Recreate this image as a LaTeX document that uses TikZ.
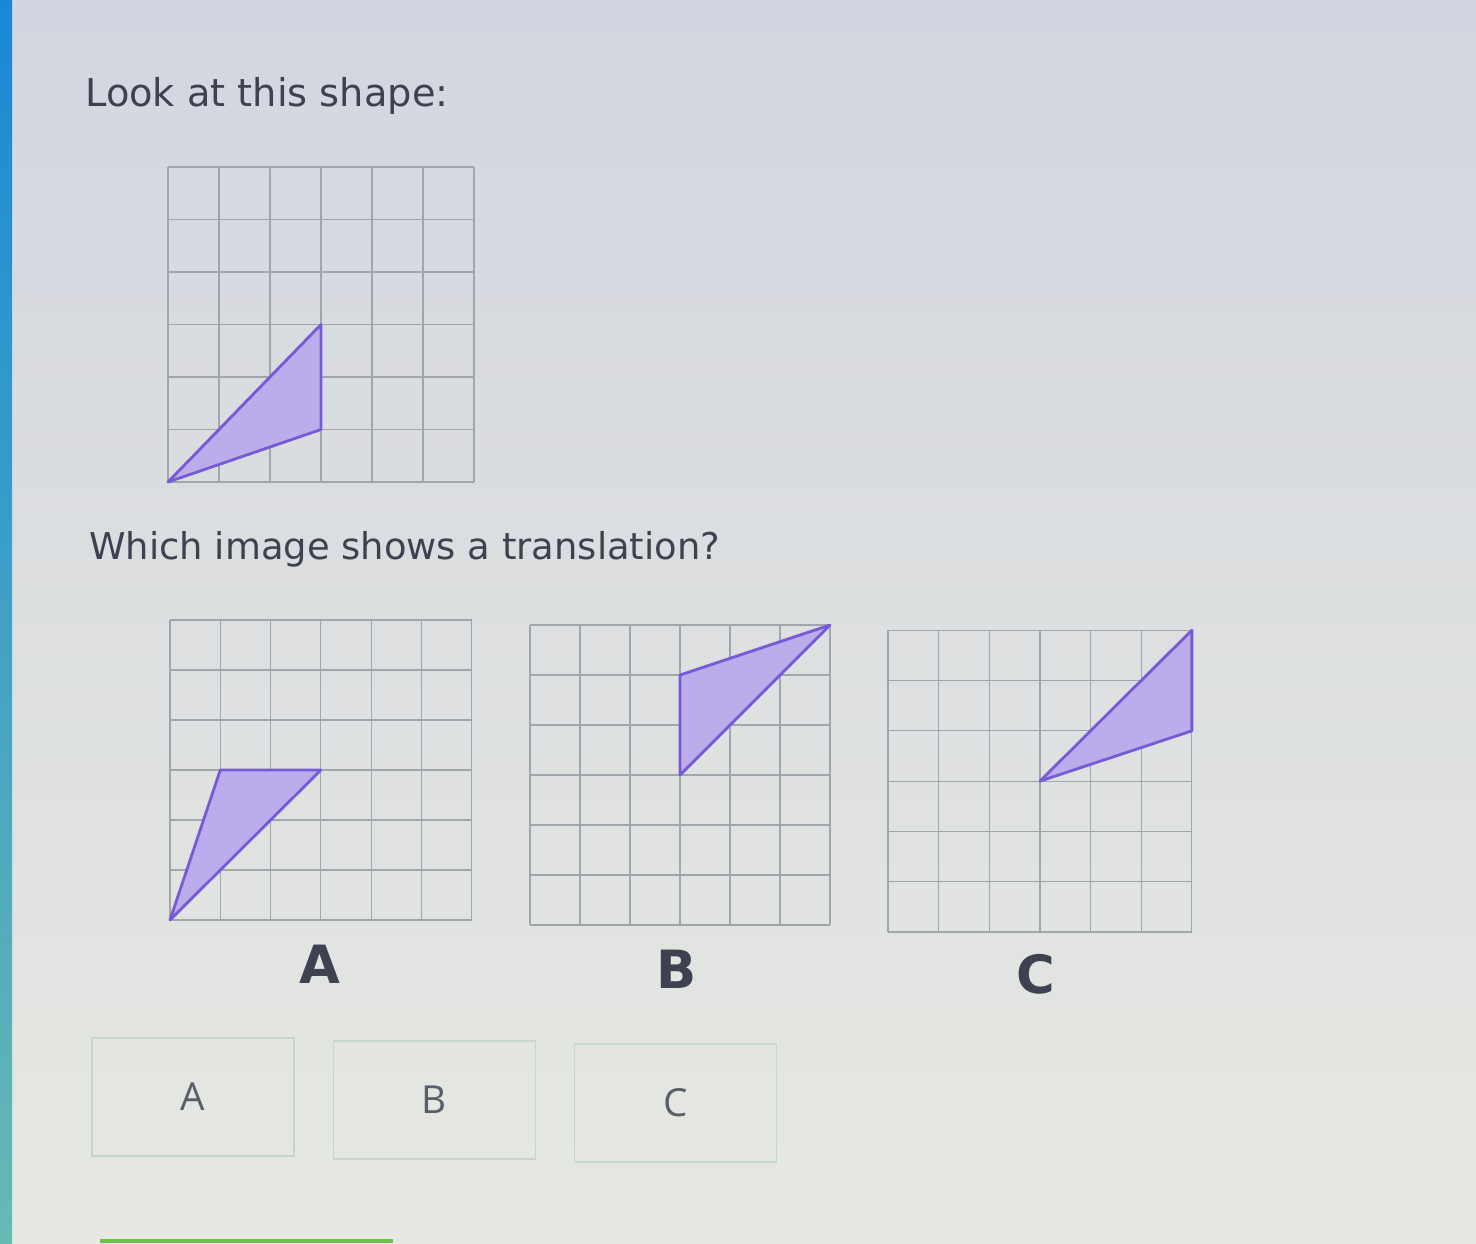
\documentclass[tikz,border=0pt]{standalone}
\usepackage{fontspec}
\setmainfont{DejaVu Sans}
\newfontfamily\btnfont{Open Sans}
\usetikzlibrary{positioning}

\definecolor{bgtop}{RGB}{211,214,224}
\definecolor{bgbot}{RGB}{230,232,225}
\definecolor{stripa}{RGB}{27,136,214}
\definecolor{stripb}{RGB}{104,185,180}
\definecolor{gridgray}{RGB}{160,167,172}
\definecolor{shapefill}{RGB}{188,172,236}
\definecolor{shapeline}{RGB}{118,90,214}
\definecolor{textgray}{RGB}{62,66,80}
\definecolor{btnline}{RGB}{196,214,208}
\definecolor{gobar}{RGB}{108,192,74}

\begin{document}
\begin{tikzpicture}[x=0.02cm,y=-0.02cm,
  gridline/.style={draw=gridgray,line width=0.7pt},
  tri/.style={draw=shapeline,fill=shapefill,line width=1.6pt,line join=round},
  question/.style={anchor=base west,inner sep=0pt,text=textgray,font=\fontsize{21}{25}\selectfont},
  letter/.style={anchor=base,inner sep=0pt,text=textgray,font=\bfseries\fontsize{30}{34}\selectfont},
  answer/.style={draw=btnline,line width=0.8pt,minimum width=4.04cm,minimum height=2.36cm,
    text=textgray!85,font=\btnfont\fontsize{22}{26}\selectfont}]
  \useasboundingbox (0,0) rectangle (1476,1243);
  % screen background
  \shade[top color=bgtop,bottom color=bgbot] (0,0) rectangle (1476,1243);
  \shade[top color=stripa,bottom color=stripb] (0,0) rectangle (12,1243);
  \fill[gobar] (100,1239) rectangle (393,1243);

  \node[question,font=\fontsize{21.8}{26}\selectfont] (look) at (85,107) {Look at this shape:};

  % the shape
  \begin{scope}[shift={(168,482)},x=1.02cm,y=1.05cm]
    \foreach \i in {0,...,6} {
      \draw[gridline] (\i,0) -- (\i,6);
      \draw[gridline] (0,\i) -- (6,\i);
    }
    \draw[tri] (0,0) -- (3,3) -- (3,1) -- cycle;
  \end{scope}

  \node[question] (which) at (89,559) {Which image shows a translation?};

  % image A
  \begin{scope}[shift={(170,920)},x=1.006cm,y=1.0cm]
    \foreach \i in {0,...,6} {
      \draw[gridline] (\i,0) -- (\i,6);
      \draw[gridline] (0,\i) -- (6,\i);
    }
    \draw[tri] (0,0) -- (1,3) -- (3,3) -- cycle;
  \end{scope}
  % image B
  \begin{scope}[shift={(530,925)},x=1.0cm,y=1.0cm]
    \foreach \i in {0,...,6} {
      \draw[gridline] (\i,0) -- (\i,6);
      \draw[gridline] (0,\i) -- (6,\i);
    }
    \draw[tri] (3,3) -- (3,5) -- (6,6) -- cycle;
  \end{scope}
  % image C
  \begin{scope}[shift={(888,932)},x=1.013cm,y=1.006cm]
    \foreach \i in {0,...,6} {
      \draw[gridline] (\i,0) -- (\i,6);
      \draw[gridline] (0,\i) -- (6,\i);
    }
    \draw[tri] (3,3) -- (6,6) -- (6,4) -- cycle;
  \end{scope}

  \node[letter] (labA) at (320,983) {A};
  \node[letter] (labB) at (677,988) {B};
  \node[letter] (labC) at (1036,993) {C};

  % answer buttons
  \node[answer] (btnA) at (193,1097) {A};
  \node[answer,right=0.76cm of btnA,yshift=-0.06cm] (btnB) {B};
  \node[answer,right=0.76cm of btnB,yshift=-0.06cm] (btnC) {C};
\end{tikzpicture}
\end{document}
